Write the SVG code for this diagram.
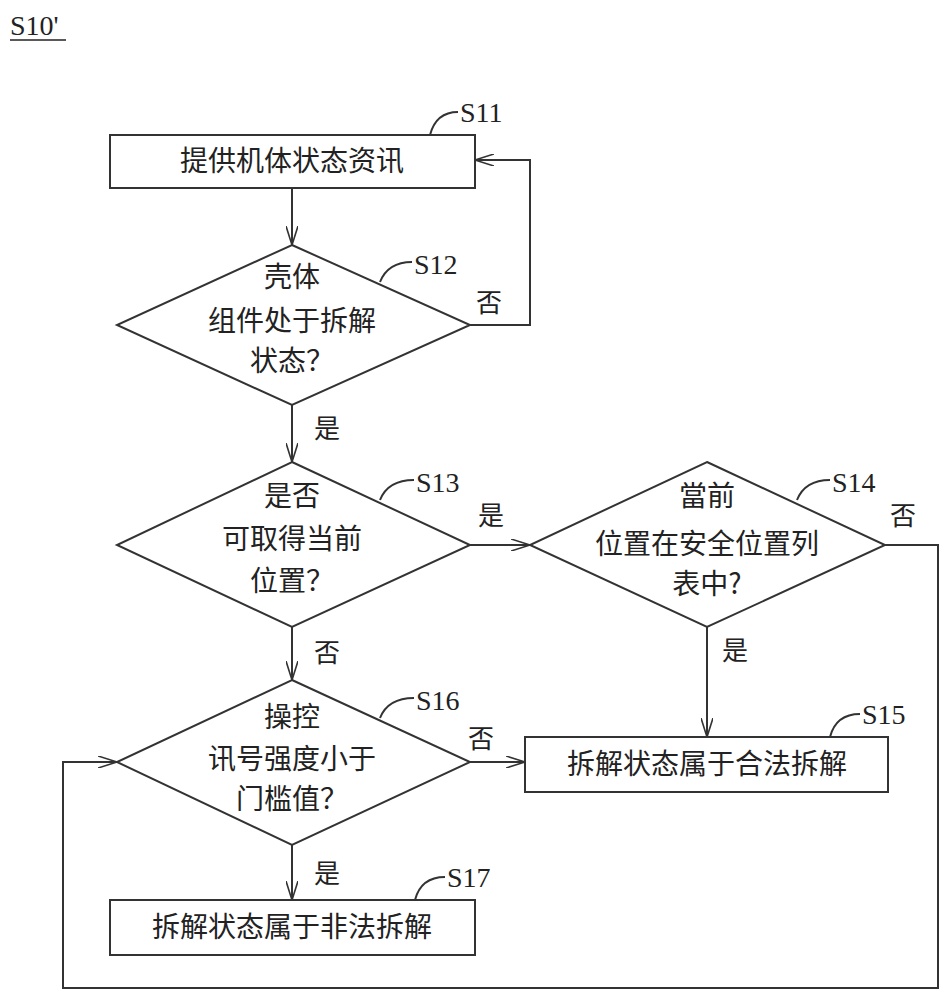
<svg xmlns="http://www.w3.org/2000/svg" width="949" height="1000" viewBox="0 0 949 1000">
<style>
.s{fill:none;stroke:#333;stroke-width:2}
.t{font-family:"Noto Sans CJK SC","Noto Sans CJK TC",sans-serif;font-size:28px;fill:#222;text-anchor:middle}
.l{font-family:"Liberation Serif",serif;font-size:28px;fill:#222}
.c{font-family:"Noto Sans CJK SC",sans-serif;font-size:26px;fill:#222}
</style>
<defs><marker id="a" markerWidth="20" markerHeight="12" refX="19" refY="6" orient="auto" markerUnits="userSpaceOnUse"><path d="M0,0 L19,6 L0,12" fill="none" stroke="#333" stroke-width="1.6"/></marker></defs>
<rect width="949" height="1000" fill="#fff"/>
<text class="l" x="10" y="35">S10'</text>
<line x1="10" y1="40" x2="66" y2="40" stroke="#222" stroke-width="1.5"/>
<g id="S11"><rect class="s" x="110" y="135" width="365" height="53"/><text class="t" x="292" y="171">提供机体状态资讯</text><path class="s" d="M430,135 Q436,112 458,112" stroke-width="1.5"/><text class="l" x="460" y="122">S11</text></g>
<g id="S12"><polygon class="s" points="292,245 470,325 292,405 117,325"/><text class="t" x="292" y="287">壳体</text><text class="t" x="292" y="331">组件处于拆解</text><text class="t" x="292" y="371">状态？</text><path class="s" d="M380,282 Q388,262 412,262" stroke-width="1.5"/><text class="l" x="414" y="274">S12</text></g>
<g id="S13"><polygon class="s" points="292,462 470,545 292,627 117,545"/><text class="t" x="292" y="506">是否</text><text class="t" x="292" y="549">可取得当前</text><text class="t" x="292" y="591">位置？</text><path class="s" d="M380,500 Q388,480 414,480" stroke-width="1.5"/><text class="l" x="416" y="492">S13</text></g>
<g id="S14"><polygon class="s" points="707,462 885,545 707,627 530,545"/><text class="t" x="707" y="506">當前</text><text class="t" x="707" y="554">位置在安全位置列</text><text class="t" x="707" y="594">表中?</text><path class="s" d="M797,500 Q805,480 830,480" stroke-width="1.5"/><text class="l" x="832" y="492">S14</text></g>
<g id="S15"><rect class="s" x="525" y="737" width="363" height="55"/><text class="t" x="707" y="774">拆解状态属于合法拆解</text><path class="s" d="M830,737 Q836,714 860,714" stroke-width="1.5"/><text class="l" x="862" y="724">S15</text></g>
<g id="S16"><polygon class="s" points="292,680 470,762 292,845 117,762"/><text class="t" x="292" y="727">操控</text><text class="t" x="292" y="769">讯号强度小于</text><text class="t" x="292" y="809">门槛值？</text><path class="s" d="M380,718 Q388,698 414,698" stroke-width="1.5"/><text class="l" x="416" y="710">S16</text></g>
<g id="S17"><rect class="s" x="110" y="900" width="365" height="55"/><text class="t" x="292" y="937">拆解状态属于非法拆解</text><path class="s" d="M415,900 Q421,877 445,877" stroke-width="1.5"/><text class="l" x="447" y="887">S17</text></g>
<g id="connectors">
<line class="s" x1="292" y1="188" x2="292" y2="245" marker-end="url(#a)"/>
<polyline class="s" points="470,325 530,325 530,160 475,160" marker-end="url(#a)"/>
<line class="s" x1="292" y1="405" x2="292" y2="462" marker-end="url(#a)"/>
<line class="s" x1="470" y1="545" x2="530" y2="545" marker-end="url(#a)"/>
<line class="s" x1="707" y1="627" x2="707" y2="737" marker-end="url(#a)"/>
<polyline class="s" points="885,545 938,545 938,988 63,988 63,762 117,762" marker-end="url(#a)"/>
<line class="s" x1="292" y1="627" x2="292" y2="680" marker-end="url(#a)"/>
<line class="s" x1="470" y1="762" x2="525" y2="762" marker-end="url(#a)"/>
<line class="s" x1="292" y1="845" x2="292" y2="900" marker-end="url(#a)"/>
<text class="c" x="476" y="312">否</text>
<text class="c" x="314" y="438">是</text>
<text class="c" x="478" y="525">是</text>
<text class="c" x="890" y="525">否</text>
<text class="c" x="722" y="660">是</text>
<text class="c" x="314" y="662">否</text>
<text class="c" x="468" y="748">否</text>
<text class="c" x="314" y="883">是</text>
</g>
</svg>
